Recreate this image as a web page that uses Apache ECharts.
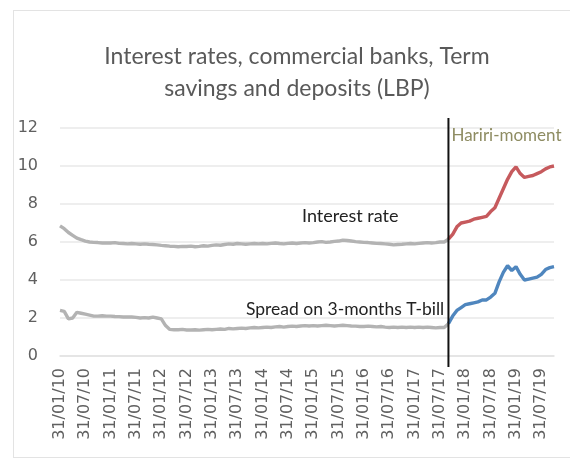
<!DOCTYPE html>
<html><head><meta charset="utf-8">
<script src="https://cdn.jsdelivr.net/npm/echarts@6/dist/echarts.min.js"></script>
<style>
html,body{margin:0;padding:0;background:#fff;}
#frame{position:absolute;left:13px;top:10px;width:600px;height:446px;border:1px solid #e3e3e3;}
#c{position:absolute;left:0;top:0;width:570px;height:460px;}
</style></head>
<body><div id="frame"></div><div id="c"></div>
<script>
// Monthly categories, Jan 2010 .. Oct 2019 (month-end dates)
const startYear = 2010, startMonth = 0, monthCount = 118;
const categories = [];
for (let i = 0; i < monthCount; i++) {
  const y = startYear + Math.floor((startMonth + i) / 12);
  const m = (startMonth + i) % 12;
  const d = new Date(Date.UTC(y, m + 1, 0)).getUTCDate();
  categories.push(String(d).padStart(2,'0') + '/' + String(m + 1).padStart(2,'0') + '/' + String(y % 100).padStart(2,'0'));
}
const eventCategory = '30/09/17';
const eventLabel = 'Hariri-moment';
const yTicks = [0, 2, 4, 6, 8, 10, 12];

// Interest rate (%), Jan 2010 .. Oct 2019
const interestRate = [
  6.85, 6.7, 6.5, 6.35, 6.2, 6.12, 6.05, 6.0, 5.98, 5.97, 5.95, 5.95,
  5.95, 5.97, 5.93, 5.92, 5.9, 5.92, 5.9, 5.88, 5.9, 5.88, 5.87, 5.85,
  5.82, 5.8, 5.78, 5.77, 5.75, 5.77, 5.76, 5.78, 5.75, 5.77, 5.8, 5.78,
  5.82, 5.85, 5.83, 5.87, 5.9, 5.88, 5.92, 5.9, 5.88, 5.9, 5.92, 5.9,
  5.92, 5.9, 5.93, 5.95, 5.92, 5.9, 5.93, 5.95, 5.92, 5.95, 5.97, 5.95,
  5.97, 6.0, 6.02, 5.98, 6.0, 6.03, 6.05, 6.1, 6.08, 6.05, 6.02, 6.0,
  5.98, 5.97, 5.95, 5.93, 5.92, 5.9, 5.88, 5.85, 5.87, 5.88, 5.9, 5.92,
  5.9, 5.93, 5.95, 5.97, 5.95, 5.97, 6.0, 6.0, 6.15, 6.4, 6.8, 7.0,
  7.05, 7.1, 7.2, 7.25, 7.3, 7.35, 7.6, 7.8, 8.3, 8.8, 9.3, 9.7,
  9.95, 9.6, 9.4, 9.45, 9.5, 9.6, 9.7, 9.85, 9.95, 10.0
];
// Spread on 3-months T-bill (%), Jan 2010 .. Oct 2019
const spread = [
  2.4, 2.35, 1.95, 2.0, 2.3, 2.25, 2.2, 2.15, 2.1, 2.1, 2.12, 2.1,
  2.1, 2.08, 2.07, 2.05, 2.05, 2.05, 2.03, 2.0, 2.02, 2.0, 2.05, 2.0,
  1.95, 1.6, 1.4, 1.38, 1.38, 1.4, 1.37, 1.37, 1.38, 1.36, 1.38, 1.4,
  1.38, 1.4, 1.42, 1.4, 1.45, 1.43, 1.45, 1.47, 1.45, 1.48, 1.5, 1.48,
  1.5, 1.52, 1.5, 1.53, 1.55, 1.52, 1.55, 1.57, 1.55, 1.58, 1.6, 1.58,
  1.6, 1.58, 1.6, 1.62, 1.6, 1.58, 1.6, 1.62, 1.6, 1.58, 1.57, 1.55,
  1.55, 1.57, 1.55, 1.53, 1.55, 1.52, 1.5, 1.52, 1.5, 1.52, 1.5, 1.52,
  1.5, 1.52, 1.5, 1.52, 1.5, 1.48, 1.5, 1.5, 1.7, 2.1, 2.4, 2.55,
  2.7, 2.75, 2.8, 2.85, 2.95, 2.95, 3.1, 3.3, 3.9, 4.4, 4.75, 4.5,
  4.7, 4.3, 4.0, 4.05, 4.1, 4.15, 4.3, 4.55, 4.65, 4.7
];

const ev = categories.indexOf(eventCategory);
const before = arr => arr.map((v, i) => i <= ev ? v : null);
const after = arr => arr.map((v, i) => i >= ev ? v : null);

const chart = echarts.init(document.getElementById('c'));
const lineBase = {type: 'line', showSymbol: false, symbol: 'none', smooth: false, connectNulls: false};
chart.setOption({
  animation: false,
  backgroundColor: 'transparent',
  title: {
    text: 'Interest rates, commercial banks, Term\nsavings and deposits (LBP)',
    left: 292, top: 36, textAlign: 'center',
    textStyle: {fontFamily: 'Lato', fontSize: 23, fontWeight: 'normal', color: '#595959', lineHeight: 32}
  },
  grid: {left: 60, right: 16, top: 128, bottom: 104},
  xAxis: {
    type: 'category', data: categories, boundaryGap: false,
    axisLine: {show: true, lineStyle: {color: '#e2e2e2', width: 1.5}},
    axisTick: {show: false},
    splitLine: {show: false},
    axisLabel: {
      rotate: 90, margin: 12, color: '#606060', fontFamily: 'DejaVu Sans', fontSize: 16,
      interval: (i) => i % 6 === 0
    }
  },
  yAxis: {
    type: 'value', min: yTicks[0], max: yTicks[yTicks.length - 1], interval: 2,
    axisLine: {show: false}, axisTick: {show: false},
    splitLine: {lineStyle: {color: '#e8e8e8', width: 1.5}},
    axisLabel: {color: '#606060', fontFamily: 'DejaVu Sans', fontSize: 16, margin: 22}
  },
  series: [
    Object.assign({}, lineBase, {name: 'Interest rate', data: before(interestRate), lineStyle: {width: 3.4, color: '#b3b3b3'}, itemStyle: {color: '#b3b3b3'}}),
    Object.assign({}, lineBase, {name: 'Interest rate (after)', data: after(interestRate), lineStyle: {width: 3.4, color: '#c65a5d'}, itemStyle: {color: '#c65a5d'}}),
    Object.assign({}, lineBase, {name: 'Spread', data: before(spread), lineStyle: {width: 3.4, color: '#b3b3b3'}, itemStyle: {color: '#b3b3b3'}}),
    Object.assign({}, lineBase, {name: 'Spread (after)', data: after(spread), lineStyle: {width: 3.4, color: '#4f86be'}, itemStyle: {color: '#4f86be'}})
  ]
});

const px = chart.convertToPixel({xAxisIndex: 0}, eventCategory);
const yTop = chart.convertToPixel({yAxisIndex: 0}, yTicks[yTicks.length - 1]);
const yBot = chart.convertToPixel({yAxisIndex: 0}, yTicks[0]);
chart.setOption({
  graphic: [
    {type: 'text', left: 302, top: 207, z: 5, style: {text: 'Interest rate', fontFamily: 'Lato', fontSize: 18, fill: '#222'}},
    {type: 'text', left: 246, top: 300, z: 5, style: {text: 'Spread on 3-months T-bill', fontFamily: 'Lato', fontSize: 17.5, fill: '#222'}},
    {type: 'text', left: px + 3, top: 127, z: 5, style: {text: eventLabel, fontFamily: 'Lato', fontSize: 17, fill: '#8e8c62'}},
    {type: 'line', z: 10, shape: {x1: px, y1: yTop - 10, x2: px, y2: yBot + 11}, style: {stroke: '#111', lineWidth: 2}}
  ]
});
</script></body></html>
